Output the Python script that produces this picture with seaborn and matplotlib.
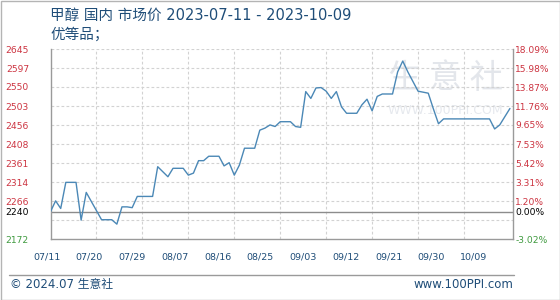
import numpy as np
import pandas as pd
import matplotlib
matplotlib.use("Agg")
import matplotlib.pyplot as plt
import matplotlib.transforms as mtransforms
from matplotlib.patches import Rectangle
from matplotlib.lines import Line2D
import seaborn as sns

# ---------------- data ----------------
dates = ["2023-07-11", "2023-07-12", "2023-07-13", "2023-07-14", "2023-07-16",
         "2023-07-17", "2023-07-18", "2023-07-21", "2023-07-23", "2023-07-24",
         "2023-07-25", "2023-07-26", "2023-07-27", "2023-07-28", "2023-07-31",
         "2023-08-01", "2023-08-03", "2023-08-04", "2023-08-06", "2023-08-07",
         "2023-08-08", "2023-08-09", "2023-08-10", "2023-08-11", "2023-08-13",
         "2023-08-14", "2023-08-15", "2023-08-16", "2023-08-17", "2023-08-18",
         "2023-08-20", "2023-08-21", "2023-08-22", "2023-08-23", "2023-08-24",
         "2023-08-25", "2023-08-27", "2023-08-28", "2023-08-29", "2023-08-30",
         "2023-08-31", "2023-09-01", "2023-09-02", "2023-09-03", "2023-09-04",
         "2023-09-05", "2023-09-06", "2023-09-07", "2023-09-09", "2023-09-10",
         "2023-09-11", "2023-09-12", "2023-09-13", "2023-09-14", "2023-09-16",
         "2023-09-17", "2023-09-18", "2023-09-19", "2023-09-21", "2023-09-23",
         "2023-09-24", "2023-09-25", "2023-09-26", "2023-10-05", "2023-10-06",
         "2023-10-07", "2023-10-09"]
prices = [2240, 2267, 2248, 2313, 2313,
          2219, 2288, 2220, 2220, 2209,
          2252, 2252, 2250, 2278, 2278,
          2352, 2327, 2348, 2348, 2331,
          2336, 2367, 2367, 2378, 2378,
          2354, 2362, 2331, 2356, 2398,
          2398, 2443, 2448, 2456, 2452,
          2464, 2464, 2452, 2450, 2539,
          2522, 2548, 2549, 2540, 2522,
          2539, 2501, 2485, 2485, 2506,
          2520, 2491, 2527, 2533, 2533,
          2588, 2615, 2588, 2540, 2535,
          2496, 2459, 2471, 2471, 2446,
          2456, 2497]

base_price = 2240
left_ticks = ["2172", "", "2266", "2314", "2361", "2408", "2456", "2503", "2550", "2597", "2645"]
right_ticks = ["-3.02%", "", "1.20%", "3.31%", "5.42%", "7.53%", "9.65%", "11.76%", "13.87%", "15.98%", "18.09%"]
x_labels = ["07/11", "07/20", "07/29", "08/07", "08/16", "08/25", "09/03", "09/12", "09/21", "09/30", "10/09"]
title = "甲醇 国内 市场价 2023-07-11 - 2023-10-09"
subtitle = "优等品；"
footer_left = "© 2024.07 生意社"
footer_right = "www.100PPI.com"

# ---------------- style ----------------
sns.set_style("white")
plt.rcParams['font.family'] = ['DejaVu Sans', 'Noto Sans CJK SC']

W, H = 560, 300
fig = plt.figure(figsize=(W / 100, H / 100), dpi=100)
fig.patch.set_facecolor("white")

ax_l, ax_r, ax_t, ax_b = 50.5, 512.5, 49, 239
ax = fig.add_axes([ax_l / W, 1 - ax_b / H, (ax_r - ax_l) / W, (ax_b - ax_t) / H])

df = pd.DataFrame({"date": pd.to_datetime(dates), "price": prices})
df["day"] = (df["date"] - df["date"].iloc[0]).dt.days

ymin, ymax = 2172, 2645
tick_pos = np.linspace(ymin, ymax, 11)

# grid
grid_c = "#d2d2d2"
for t in tick_pos[1:]:
    ax.axhline(t, color=grid_c, lw=0.8, ls=(0, (2.5, 2)), zorder=1)
for d in range(9, 90, 9):
    ax.axvline(d, color=grid_c, lw=0.8, ls=(0, (2.5, 2)), zorder=1)
ax.axhline(base_price, color="#8c8c8c", lw=1.0, zorder=2)

# watermark
ax.text(0.855, 0.845, "生 意 社", transform=ax.transAxes, fontsize=24,
        color="#e3e6eb", ha="center", va="center", zorder=0,
        family=['Noto Sans CJK SC'])
ax.text(0.855, 0.675, "WWW.100PPI.COM", transform=ax.transAxes, fontsize=9,
        color="#e6e9ee", ha="center", va="center", zorder=0)

sns.lineplot(data=df, x="day", y="price", ax=ax, color="#4b88b6",
             linewidth=1.0, zorder=3)

ax.set_xlim(0, 90.5)
ax.set_ylim(ymin, ymax)
ax.set_xlabel("")
ax.set_ylabel("")

for s in ["left", "bottom", "right"]:
    ax.spines[s].set_color("#9a9a9a")
    ax.spines[s].set_linewidth(1.0)
ax.spines["top"].set_visible(False)

red = "#cc3340"
green = "#3f9a3f"

# left ticks
lpos = list(tick_pos) + [base_price]
llab = left_ticks + [str(base_price)]
lcol = [green] + [red] * 10 + ["black"]
ax.set_yticks(lpos)
ax.set_yticklabels(llab, fontsize=6.6, family="DejaVu Sans")
for lbl, c in zip(ax.get_yticklabels(), lcol):
    lbl.set_color(c)
ax.tick_params(axis="y", length=0, pad=15.5)
ax.set_xticks([])

# right ticks
ax2 = ax.twinx()
ax2.set_ylim(ymin, ymax)
ax2.set_yticks(lpos)
ax2.set_yticklabels(right_ticks + ["0.00%"], fontsize=6.6, family="DejaVu Sans")
for lbl, c in zip(ax2.get_yticklabels(), lcol):
    lbl.set_color(c)
ax2.tick_params(axis="y", length=0, pad=2)
for s in ax2.spines.values():
    s.set_visible(False)

# x labels (positions as in reference, slightly offset from grid)
trans = mtransforms.blended_transform_factory(ax.transData, ax.transAxes)
for k, lab in enumerate(x_labels):
    ax.text(-0.74 + 8.37 * k, -0.093, lab, transform=trans, ha="center",
            va="center", fontsize=6.8, color="#1f4d78", clip_on=False)

# title
navy = "#1f4d78"
fig.text(50 / W, 1 - 15 / H, title, fontsize=10.5, color=navy, ha="left", va="center")
fig.text(50 / W, 1 - 34 / H, subtitle, fontsize=10.5, color=navy, ha="left", va="center")

# footer
fig.add_artist(Line2D([9 / W, 514 / W], [1 - 275 / H, 1 - 275 / H],
                      transform=fig.transFigure, color="#9a9a9a", lw=1.0))
fig.text(10 / W, 1 - 284.5 / H, footer_left, fontsize=8.5, color=navy, ha="left", va="center")
fig.text(513 / W, 1 - 284.5 / H, footer_right, fontsize=8.5, color=navy, ha="right", va="center")

# outer frame
fig.add_artist(Rectangle((0.5 / W, 0.5 / H), (W - 1) / W, (H - 1) / H,
                         transform=fig.transFigure, fill=False,
                         edgecolor="#b4b4b4", lw=1.0))

fig.savefig("out.png", dpi=100)
